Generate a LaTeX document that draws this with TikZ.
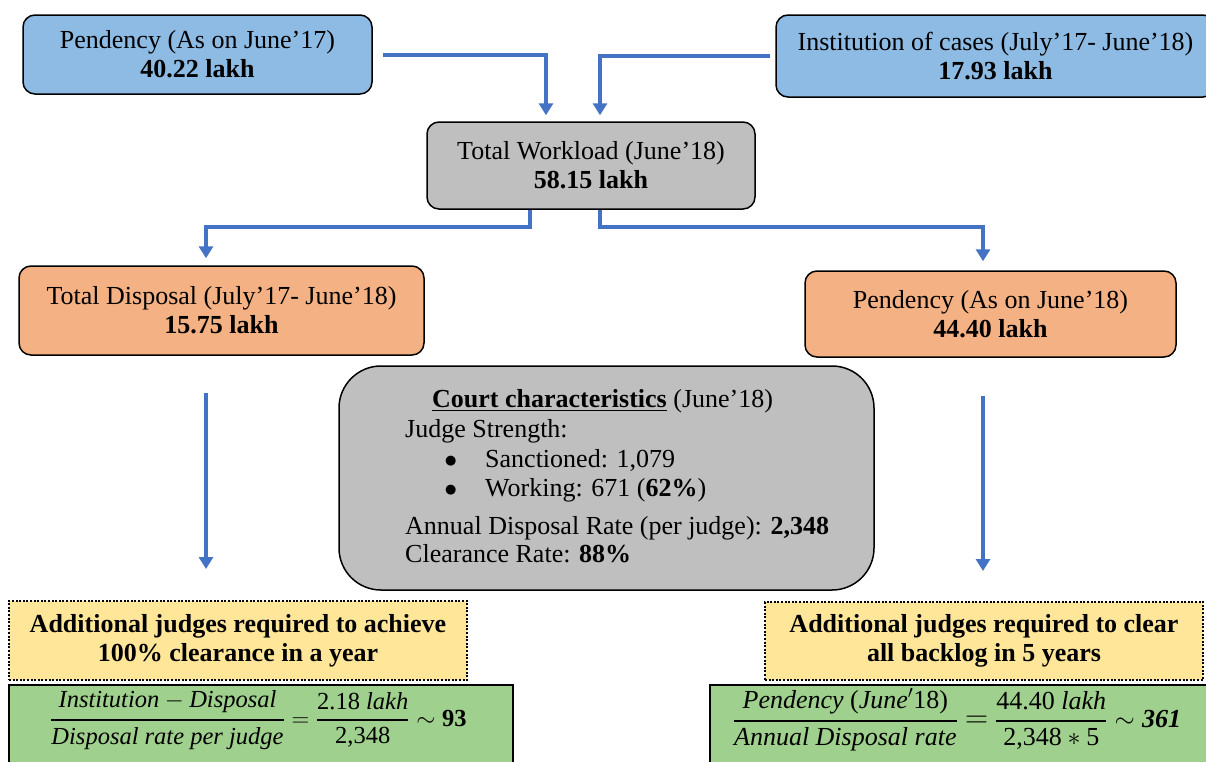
\RequirePackage{fix-cm}
\documentclass[tikz,border=0pt]{standalone}
\usepackage{amsmath}
\usepackage{fontspec}
\setmainfont{Liberation Serif}
\newfontfamily\bulletfont{DejaVu Sans}
\usetikzlibrary{arrows.meta}
\definecolor{boxblue}{HTML}{8DBBE3}
\definecolor{boxgray}{HTML}{BFBFBF}
\definecolor{boxorange}{HTML}{F4B183}
\definecolor{boxyellow}{HTML}{FFE699}
\definecolor{boxgreen}{HTML}{A0D08D}
\definecolor{arrowblue}{HTML}{4472C4}
\newcommand{\bulletitem}{\makebox[40pt][l]{\raisebox{3pt}{\bulletfont\fontsize{13}{13}\selectfont ●}}}
\begin{document}
\begin{tikzpicture}[x=1pt,y=-1pt,
  box/.style={draw=black, line width=1.5pt, rounded corners=12pt, inner sep=0pt, align=center,
    font=\fontsize{26}{29}\selectfont, text=black},
  notebox/.style={draw=black, line width=2pt, dash pattern=on 2pt off 1.6pt, fill=boxyellow, inner sep=0pt,
    align=center, font=\fontsize{26}{29}\selectfont\bfseries},
  formbox/.style={draw=black, line width=1.5pt, fill=boxgreen, inner sep=0pt},
  formula/.style={inner sep=0pt, font=\fontsize{24.5}{28}\selectfont},
  ctext/.style={anchor=base west, inner sep=0pt, font=\fontsize{26}{29}\selectfont},
  arr/.style={draw=arrowblue, line width=4pt, -{Triangle[width=14pt,length=12pt]}}]
\clip (0,0) rectangle (1206,761);
\fill[white] (0,0) rectangle (1206,761);

\node[box, fill=boxblue, minimum width=349pt, minimum height=79pt] (A) at (197.5,54.5)
  {Pendency (As on June'17)\\\textbf{40.22 lakh}};
\node[box, fill=boxblue, minimum width=439pt, minimum height=82pt] (B) at (995.5,56)
  {Institution of cases (July'17- June'18)\\\textbf{17.93 lakh}};
\node[box, fill=boxgray, minimum width=328pt, minimum height=87pt] (C) at (591,165.5)
  {Total Workload (June'18)\\\textbf{58.15 lakh}};
\node[box, fill=boxorange, minimum width=405pt, minimum height=89pt] (D) at (221.5,310.5)
  {Total Disposal (July'17- June'18)\\\textbf{15.75 lakh}};
\node[box, fill=boxorange, minimum width=371pt, minimum height=86pt] (E) at (990.5,314)
  {Pendency (As on June'18)\\\textbf{44.40 lakh}};
\node[box, fill=boxgray, rounded corners=42pt, minimum width=535pt, minimum height=224pt] (F) at (606.5,478) {};

\node[ctext] (F1) at (432,407) {\underline{\textbf{Court characteristics}} (June'18)};
\node[ctext] (F2) at (405,437) {Judge Strength:};
\node[ctext] (F3) at (445,467) {\bulletitem Sanctioned: 1,079};
\node[ctext] (F4) at (445,496) {\bulletitem Working: 671 (\textbf{62\%})};
\node[ctext] (F5) at (405,534) {Annual Disposal Rate (per judge): \textbf{2,348}};
\node[ctext] (F6) at (405,562) {Clearance Rate: \textbf{88\%}};

\node[notebox, minimum width=458pt, minimum height=79pt] (G) at (238,640.5)
  {Additional judges required to achieve\\100\% clearance in a year};
\node[notebox, minimum width=438pt, minimum height=78pt] (I) at (984,641)
  {Additional judges required to clear\\all backlog in 5 years};

\node[formbox, minimum width=504pt, minimum height=90pt] (H) at (261,730) {};
\node[formbox, minimum width=510pt, minimum height=90pt] (J) at (965,730) {};

\node[formula] (Hf) at (258.5,720)
  {$\genfrac{}{}{2pt}{0}{\textit{Institution} - \textit{Disposal}}{\textit{Disposal rate per judge}}
   = \genfrac{}{}{2pt}{0}{\mbox{2.18 \textit{lakh}}}{\mbox{2,348}} \sim \mbox{\textbf{93}}$};
\node[formula, font=\fontsize{26}{29}\selectfont] (Jf) at (957,720)
  {$\genfrac{}{}{2pt}{0}{\mbox{\textit{Pendency} (\textit{June}$'$18)}}{\mbox{\textit{Annual Disposal rate}}}
   \mathrel{\mbox{\fontsize{32}{32}\selectfont$=$}} \genfrac{}{}{2pt}{0}{\mbox{44.40 \textit{lakh}}}{\mbox{2,348}\ast\mbox{5}} \sim \mbox{\textbf{\textit{361}}}$};

\draw[arr] ([xshift=10pt]A.east) -| ([xshift=-45pt,yshift=6pt]C.north);
\draw[arr] ([xshift=-5pt]B.west) -| ([xshift=9pt,yshift=6pt]C.north);
\draw[arr] ([xshift=-61pt]C.south) -- ++(0,17) -| ([xshift=-15.5pt,yshift=7pt]D.north);
\draw[arr] ([xshift=9pt]C.south) -- ++(0,17) -| ([xshift=-7.5pt,yshift=9pt]E.north);
\draw[arr] ([xshift=-15.5pt,yshift=-37pt]D.south) -- ([xshift=-32pt,yshift=31pt]G.north);
\draw[arr] ([xshift=-7.5pt,yshift=-38pt]E.south) -- ([xshift=-1pt,yshift=30pt]I.north);
\end{tikzpicture}
\end{document}
